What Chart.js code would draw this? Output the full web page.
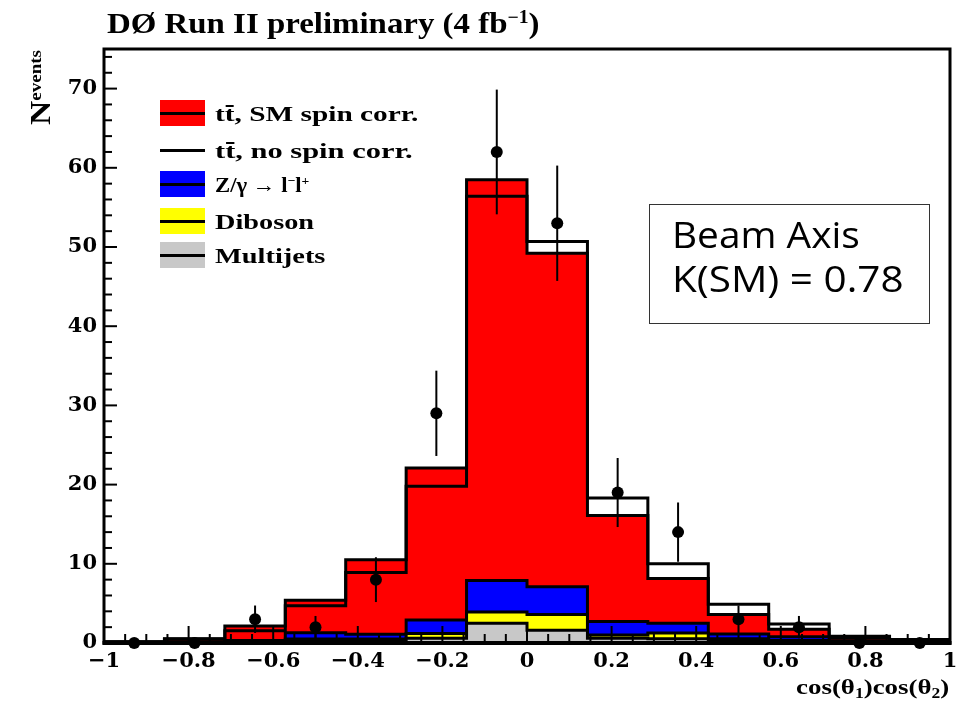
<!DOCTYPE html>
<html><head><meta charset="utf-8">
<script src="https://cdn.jsdelivr.net/npm/chart.js@4.4.1/dist/chart.umd.min.js"></script>
<style>
html,body{margin:0;padding:0;background:#fff;}
#wrap{position:relative;width:968px;height:706px;overflow:hidden;background:#fff;}
#c{position:absolute;left:0;top:0;}
.t{position:absolute;white-space:nowrap;font-family:"Liberation Serif","Times New Roman",serif;font-weight:bold;color:#000;transform-origin:0 0;line-height:1;}
.sup{font-size:0.6em;vertical-align:0.55em;line-height:0;}
.sub{font-size:0.65em;vertical-align:-0.3em;line-height:0;}
.bar{position:relative;}
.bar::before{content:"";position:absolute;left:0.02em;right:0.02em;top:0.2em;border-top:2px solid #000;}
.sw{position:absolute;width:45px;height:26px;}
.sw i{position:absolute;left:0;right:0;top:11.5px;height:3px;background:#000;}
.box{position:absolute;left:649px;top:204px;width:279px;height:118px;border:1px solid #333;}
.bt{position:absolute;white-space:nowrap;font-family:"Open Sans","DejaVu Sans",sans-serif;font-weight:normal;color:#000;transform-origin:0 0;line-height:1;font-size:37px;}
</style></head><body>
<div id="wrap">
<canvas id="c" width="968" height="706"></canvas>
<div class="t" data-w="433" style="left:107px;top:8px;font-size:30px">DØ Run II preliminary (4 fb<span class="sup">−1</span>)</div>
<div id="legend"></div>
<div class="box"></div>
<div class="bt" data-w="188" style="left:672px;top:215px">Beam Axis</div>
<div class="bt" data-w="232" style="left:672px;top:259px">K(SM) = 0.78</div>
<div style="position:absolute;left:25px;top:125px;transform:rotate(-90deg);transform-origin:0 0;">
  <div class="t" data-w="75" style="position:relative;font-size:30px;width:max-content">N<span style="font-size:17px;vertical-align:9px;line-height:0">events</span></div>
</div>
<div class="t" data-w="153" style="left:796px;top:676px;font-size:22px">cos(θ<span class="sub">1</span>)cos(θ<span class="sub">2</span>)</div>
</div>
<script>
// ---- data ----
const binEdges = [-1, -0.8571, -0.7143, -0.5714, -0.4286, -0.2857, -0.1429, 0, 0.1429, 0.2857, 0.4286, 0.5714, 0.7143, 0.8571, 1];
const dataCounts = [0, 0, 3, 2, 8, 29, 62, 53, 19, 14, 3, 2, 0, 0];
const multijets = [0, 0.05, 0.1, 0.35, 0.3, 0.6, 2.5, 1.6, 0.6, 0.55, 0.3, 0.15, 0.05, 0.02];
const diboson   = [0, 0.05, 0.05, 0.15, 0.2, 0.6, 1.4, 2.0, 0.4, 0.7, 0.25, 0.15, 0.05, 0.03];
const zgamma    = [0, 0.05, 0.15, 0.8, 0.6, 1.7, 4.0, 3.5, 1.7, 1.25, 0.6, 0.5, 0.15, 0.05];
const ttSM      = [0.15, 0.4, 1.85, 4.1, 9.4, 19.2, 50.6, 42.1, 13.4, 5.65, 2.45, 0.95, 0.35, 0.25];
const ttNoSpin  = [0.15, 0.35, 1.25, 3.4, 7.8, 16.9, 48.5, 43.6, 15.6, 7.5, 3.75, 1.6, 0.6, 0.35];
const xTicks = [-1, -0.8, -0.6, -0.4, -0.2, 0, 0.2, 0.4, 0.6, 0.8, 1];
const xTickLabels = ['−1', '−0.8', '−0.6', '−0.4', '−0.2', '0', '0.2', '0.4', '0.6', '0.8', '1'];
const yTicks = [0, 10, 20, 30, 40, 50, 60, 70];
const yTickLabels = ['0', '10', '20', '30', '40', '50', '60', '70'];
const legendLabels = [
  't<span class="bar">t</span>, SM spin corr.',
  't<span class="bar">t</span>, no spin corr.',
  'Z/γ → l<span class="sup">−</span>l<span class="sup">+</span>',
  'Diboson',
  'Multijets'
];
const legendColors = ['#ff0000', null, '#0000ff', '#ffff00', '#c8c8c8'];

// ---- derived ----
const centers = dataCounts.map((_, i) => (binEdges[i] + binEdges[i + 1]) / 2);
const add = (a, b) => a.map((v, i) => v + b[i]);
const greyTop = multijets;
const yellowTop = add(greyTop, diboson);
const blueTop = add(yellowTop, zgamma);
const redTop = add(blueTop, ttSM);
const noSpinTop = add(blueTop, ttNoSpin);
function stepPoints(vals) {
  const n = binEdges.length - 1;
  const pts = [{x: binEdges[0], y: 0}];
  vals.forEach((v, i) => pts.push({x: binEdges[i], y: v}));
  pts.push({x: binEdges[n], y: vals[vals.length - 1]});
  pts.push({x: binEdges[n], y: 0});
  return pts;
}
function histDS(vals, fillColor) {
  return {
    data: stepPoints(vals), stepped: 'before', tension: 0, pointRadius: 0, pointHoverRadius: 0,
    borderColor: '#000', borderWidth: 3, backgroundColor: fillColor || 'rgba(0,0,0,0)',
    fill: fillColor ? 'origin' : false
  };
}

// ---- legend ----
(function () {
  const lg = document.getElementById('legend');
  const baselines = [121, 158, 192, 229, 263];
  const widths = [204, 198, 94, 99, 111];
  legendLabels.forEach((lab, i) => {
    const b = baselines[i];
    const sw = document.createElement('div');
    sw.className = 'sw';
    sw.style.left = '160px';
    sw.style.top = (b - 8 - 13) + 'px';
    if (legendColors[i]) sw.style.background = legendColors[i];
    sw.innerHTML = '<i></i>';
    lg.appendChild(sw);
    const t = document.createElement('div');
    t.className = 't';
    t.style.left = '215px';
    t.style.fontSize = '22px';
    t.style.top = (b - 0.8375 * 22) + 'px';
    t.dataset.w = widths[i];
    t.innerHTML = lab;
    lg.appendChild(t);
  });
})();

function fitAll() {
  document.querySelectorAll('[data-w]').forEach(el => {
    el.style.transform = 'none';
    const w = el.offsetWidth;
    if (w > 0) el.style.transform = 'scaleX(' + (parseFloat(el.dataset.w) / w) + ')';
  });
}
fitAll();
if (document.fonts && document.fonts.ready) document.fonts.ready.then(fitAll);

// ---- frame, ticks, error bars ----
const decor = {
  id: 'decor',
  afterDatasetsDraw(chart) {
    const {ctx, chartArea: a, scales: {x, y}} = chart;
    ctx.save();
    ctx.strokeStyle = '#000';
    ctx.lineWidth = 2;
    centers.forEach((c, i) => {
      const n = dataCounts[i];
      if (n <= 0) return;
      const e = Math.sqrt(n);
      const px = x.getPixelForValue(c);
      ctx.beginPath();
      ctx.moveTo(px, y.getPixelForValue(n - e));
      ctx.lineTo(px, y.getPixelForValue(n + e));
      ctx.stroke();
    });
    ctx.lineWidth = 2;
    for (let k = 0; k <= 37; k++) {
      const v = k * 2;
      const py = y.getPixelForValue(v);
      const len = (v % 10 === 0) ? 13 : 8;
      ctx.beginPath(); ctx.moveTo(a.left, py); ctx.lineTo(a.left + len, py); ctx.stroke();
    }
    for (let k = 0; k <= 40; k++) {
      const px = x.getPixelForValue(-1 + k * 0.05);
      const len = (k % 4 === 0) ? 17 : 9;
      ctx.beginPath(); ctx.moveTo(px, a.bottom); ctx.lineTo(px, a.bottom - len); ctx.stroke();
    }
    ctx.lineWidth = 3;
    ctx.strokeRect(a.left, a.top, a.right - a.left, a.bottom - a.top);
    ctx.lineWidth = 4;
    ctx.beginPath(); ctx.moveTo(a.left - 1.5, a.bottom); ctx.lineTo(a.right + 1.5, a.bottom); ctx.stroke();
    ctx.restore();
  }
};

const tickFont = {family: 'DejaVu Serif', weight: 'bold', size: 21};
new Chart(document.getElementById('c'), {
  type: 'line',
  data: {
    datasets: [
      {
        label: 'Data',
        data: centers.map((c, i) => ({x: c, y: dataCounts[i]})),
        showLine: false, pointRadius: 6, pointHoverRadius: 6,
        pointBackgroundColor: '#000', pointBorderColor: '#000', pointBorderWidth: 0, clip: false
      },
      Object.assign({label: 'tt no spin corr.'}, histDS(noSpinTop, null)),
      Object.assign({label: 'Multijets'}, histDS(greyTop, '#c8c8c8')),
      Object.assign({label: 'Diboson'}, histDS(yellowTop, '#ffff00')),
      Object.assign({label: 'Z/γ'}, histDS(blueTop, '#0000ff')),
      Object.assign({label: 'tt SM spin corr.'}, histDS(redTop, '#ff0000'))
    ]
  },
  options: {
    responsive: false, animation: false, events: [],
    layout: {padding: {left: 0, top: 49, right: 18, bottom: 0}},
    plugins: {legend: {display: false}, tooltip: {enabled: false}, title: {display: false}},
    scales: {
      x: {
        type: 'linear', min: -1, max: 1,
        grid: {display: false, drawTicks: false}, border: {display: false},
        afterBuildTicks: s => { s.ticks = xTicks.map(v => ({value: v})); },
        afterFit: s => { s.height = 63; },
        ticks: {autoSkip: false, maxRotation: 0, minRotation: 0, padding: 6, color: '#000', font: tickFont,
                callback: (v, i) => xTickLabels[i]}
      },
      y: {
        type: 'linear', min: 0, max: 75,
        grid: {display: false, drawTicks: false}, border: {display: false},
        afterBuildTicks: s => { s.ticks = yTicks.map(v => ({value: v})); },
        afterFit: s => { s.width = 104; },
        ticks: {autoSkip: false, padding: 7, color: '#000', font: tickFont,
                callback: (v, i) => yTickLabels[i]}
      }
    }
  },
  plugins: [decor]
});
</script>
</body></html>
